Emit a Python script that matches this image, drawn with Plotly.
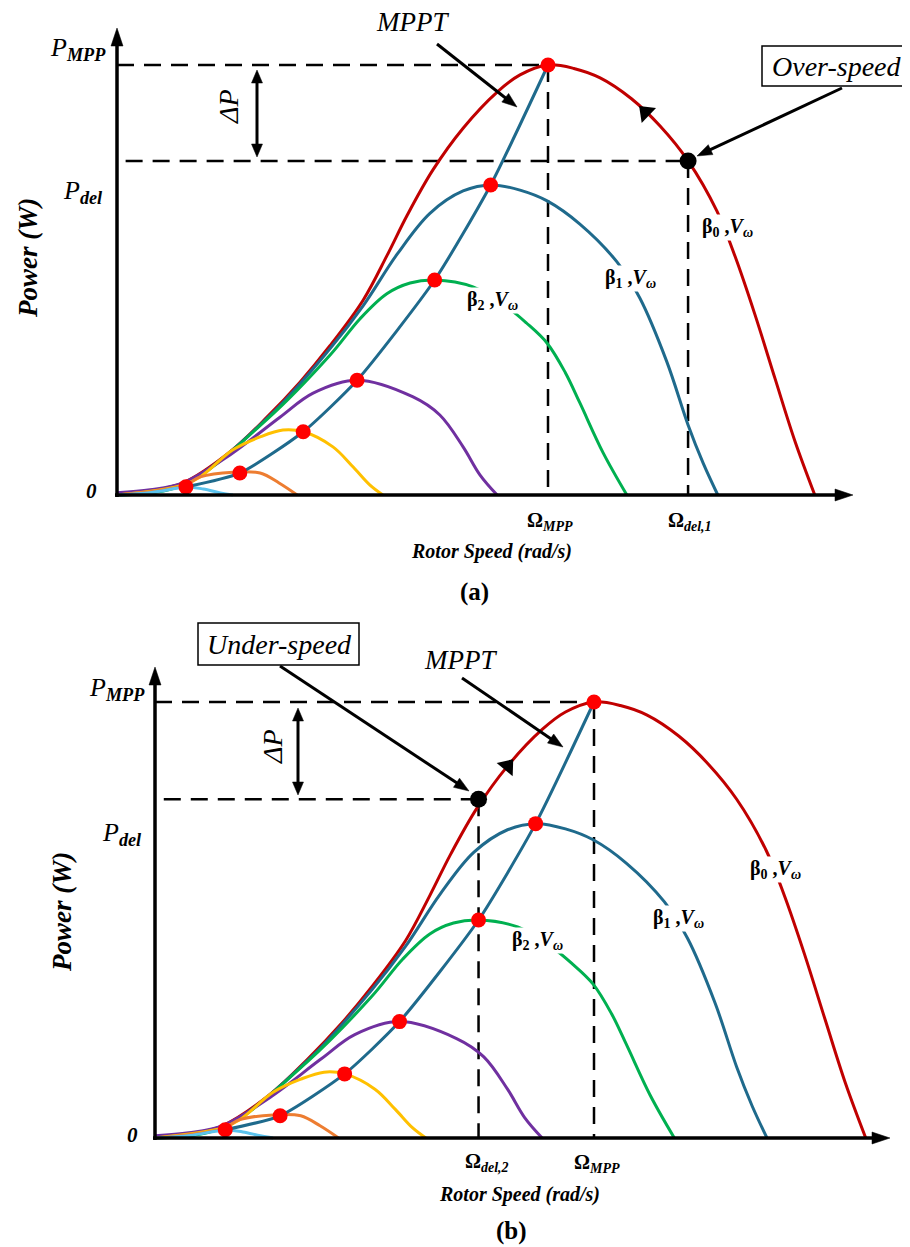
import math
import plotly.graph_objects as go

# ---------------- data (per-unit: rotor speed / Omega_MPP, power / P_MPP) ----------------
# beta0 curve (red)
omega_b0 = [0, 0.077, 0.153, 0.262, 0.348, 0.425, 0.494, 0.571, 0.626, 0.673, 0.733, 0.803,
            0.882, 0.935, 1.0, 1.06, 1.121, 1.193, 1.260, 1.325, 1.392, 1.434, 1.480, 1.527,
            1.573, 1.619]
power_b0 = [0, 0.009, 0.028, 0.100, 0.181, 0.263, 0.347, 0.453, 0.556, 0.650, 0.756, 0.853,
            0.937, 0.977, 1.0, 0.992, 0.970, 0.922, 0.858, 0.777, 0.660, 0.555, 0.420, 0.270,
            0.125, 0]
# beta1 curve (teal)
omega_b1 = [0, 0.153, 0.348, 0.494, 0.571, 0.650, 0.726, 0.803, 0.870, 0.935, 0.998, 1.074,
            1.160, 1.213, 1.276, 1.325, 1.360, 1.394]
power_b1 = [0, 0.025, 0.178, 0.340, 0.440, 0.560, 0.655, 0.707, 0.721, 0.709, 0.684, 0.630,
            0.542, 0.458, 0.309, 0.163, 0.074, 0]
# beta2 curve (green)
omega_b2 = [0, 0.153, 0.348, 0.494, 0.564, 0.626, 0.680, 0.737, 0.826, 0.905, 0.950, 0.998,
            1.040, 1.074, 1.128, 1.183]
power_b2 = [0, 0.023, 0.176, 0.325, 0.410, 0.468, 0.493, 0.500, 0.484, 0.437, 0.400, 0.353,
            0.285, 0.214, 0.098, 0]
# purple curve
omega_b3 = [0, 0.077, 0.153, 0.262, 0.378, 0.455, 0.557, 0.687, 0.749, 0.803, 0.842, 0.882]
power_b3 = [0.005, 0.012, 0.028, 0.093, 0.181, 0.237, 0.267, 0.228, 0.186, 0.112, 0.047, 0]
# yellow curve
omega_b4 = [0, 0.153, 0.193, 0.269, 0.332, 0.385, 0.432, 0.501, 0.548, 0.587, 0.617]
power_b4 = [0, 0.023, 0.042, 0.105, 0.135, 0.151, 0.147, 0.112, 0.065, 0.023, 0]
# orange curve
omega_b5 = [0, 0.153, 0.193, 0.269, 0.332, 0.376, 0.418]
power_b5 = [0, 0.021, 0.042, 0.053, 0.051, 0.028, 0]
# light-blue curve
omega_b6 = [0, 0.08, 0.16, 0.20, 0.24, 0.269]
power_b6 = [0, 0.006, 0.018, 0.014, 0.005, 0]
# MPPT operating points
omega_mppt = [0.160, 0.285, 0.432, 0.557, 0.737, 0.867, 1.0]
power_mppt = [0.019, 0.051, 0.147, 0.267, 0.500, 0.721, 1.0]

P_MPP = 1.0
P_DEL = 0.777
OMEGA_MPP = 1.0
OMEGA_DEL_1 = 1.325
OMEGA_DEL_2 = 0.737

curve_list = [
    (omega_b0, power_b0, "#C00000"),
    (omega_b1, power_b1, "#1F6A8C"),
    (omega_b2, power_b2, "#00B050"),
    (omega_b3, power_b3, "#7030A0"),
    (omega_b4, power_b4, "#FFC000"),
    (omega_b5, power_b5, "#ED7D31"),
    (omega_b6, power_b6, "#5BC3EE"),
]
TEAL = "#1F6A8C"

# ---------------- geometry ----------------
OFF = 8
FIG_W = 910 - OFF
FIG_H = 1247 - OFF


def X(px):
    return (px - OFF) / FIG_W


def Y(py):
    return 1 - (py - OFF) / FIG_H


PANELS = {
    "a": dict(ox=117, oy=495, sx=431, sy=430, xend=853, ytop=28, xa="x", ya="y"),
    "b": dict(ox=155, oy=1138, sx=439, sy=436, xend=890, ytop=667, xa="x2", ya="y2"),
}
PAD = 14

SERIF = "Liberation Serif, Times New Roman, serif"

fig = go.Figure()
shapes = []
annotations = []


def arrow(x0, y0, x1, y1, hl=15, hw=11, lw=3, both=False):
    dx, dy = x1 - x0, y1 - y0
    L = math.hypot(dx, dy)
    ux, uy = dx / L, dy / L
    sx0, sy0 = x0, y0
    ex, ey = x1 - ux * (hl - 2), y1 - uy * (hl - 2)
    if both:
        sx0, sy0 = x0 + ux * (hl - 2), y0 + uy * (hl - 2)
    shapes.append(dict(type="line", xref="paper", yref="paper", x0=X(sx0), y0=Y(sy0),
                       x1=X(ex), y1=Y(ey), line=dict(color="black", width=lw)))

    def head(tx, ty, vx, vy):
        bx, by = tx - vx * hl, ty - vy * hl
        pnx, pny = -vy, vx
        p = (f"M {X(tx)},{Y(ty)} L {X(bx + pnx * hw / 2)},{Y(by + pny * hw / 2)} "
             f"L {X(bx - pnx * hw / 2)},{Y(by - pny * hw / 2)} Z")
        shapes.append(dict(type="path", xref="paper", yref="paper", path=p,
                           fillcolor="black", line=dict(color="black", width=0.5)))

    head(x1, y1, ux, uy)
    if both:
        head(x0, y0, -ux, -uy)


def text(px, py, s, size, angle=0, bg=None):
    d = dict(x=X(px), y=Y(py), xref="paper", yref="paper", text=s, showarrow=False,
             font=dict(family=SERIF, size=size, color="black"), textangle=angle,
             xanchor="center", yanchor="middle")
    if bg:
        d["bgcolor"] = bg
        d["borderpad"] = 0
    annotations.append(d)


for key, p in PANELS.items():
    xa, ya = p["xa"], p["ya"]
    axname = "xaxis" if xa == "x" else "xaxis2"
    ayname = "yaxis" if ya == "y" else "yaxis2"
    fig.update_layout(**{
        axname: dict(domain=[X(p["ox"] - PAD), X(p["xend"])],
                     range=[-PAD / p["sx"], (p["xend"] - p["ox"]) / p["sx"]],
                     visible=False, anchor=ya, fixedrange=True),
        ayname: dict(domain=[Y(p["oy"] + PAD), Y(p["ytop"])],
                     range=[-PAD / p["sy"], (p["oy"] - p["ytop"]) / p["sy"]],
                     visible=False, anchor=xa, fixedrange=True),
    })
    # curves
    for xs, ys, col in curve_list:
        fig.add_trace(go.Scatter(x=xs, y=ys, mode="lines", xaxis=xa, yaxis=ya,
                                 line=dict(color=col, width=3, shape="spline", smoothing=1.0),
                                 hoverinfo="skip", showlegend=False))
    # MPPT trajectory
    fig.add_trace(go.Scatter(x=omega_mppt, y=power_mppt, mode="lines", xaxis=xa, yaxis=ya,
                             line=dict(color=TEAL, width=3, shape="spline", smoothing=0.6),
                             hoverinfo="skip", showlegend=False))
    fig.add_trace(go.Scatter(x=omega_mppt, y=power_mppt, mode="markers", xaxis=xa, yaxis=ya,
                             marker=dict(color="#FF0000", size=15), cliponaxis=False,
                             hoverinfo="skip", showlegend=False))
    # deloaded point and direction arrow on beta0 curve
    od = OMEGA_DEL_1 if key == "a" else OMEGA_DEL_2
    fig.add_trace(go.Scatter(x=[od], y=[P_DEL], mode="markers", xaxis=xa, yaxis=ya,
                             marker=dict(color="black", size=17), cliponaxis=False,
                             hoverinfo="skip", showlegend=False))
    if key == "a":
        i0, i1 = 18, 17
        mx = (omega_b0[i0] + omega_b0[i1]) / 2
        my = (power_b0[i0] + power_b0[i1]) / 2
    else:
        i0, i1 = 10, 12
        mx, my = omega_b0[11], power_b0[11]
    ang = math.degrees(math.atan2((omega_b0[i1] - omega_b0[i0]) * p["sx"],
                                  (power_b0[i1] - power_b0[i0]) * p["sy"]))
    fig.add_trace(go.Scatter(x=[mx], y=[my], mode="markers", xaxis=xa, yaxis=ya,
                             marker=dict(symbol="triangle-up", color="black", size=18, angle=ang,
                                         line=dict(width=0)),
                             hoverinfo="skip", showlegend=False))
    # dashed guide lines
    dash = dict(color="black", width=2.5, dash="17px,10px")
    hx0 = 0.02
    shapes.append(dict(type="line", xref=xa, yref=ya, x0=0.0, x1=OMEGA_MPP, y0=P_MPP, y1=P_MPP,
                       line=dash, layer="below"))
    shapes.append(dict(type="line", xref=xa, yref=ya, x0=hx0, x1=od, y0=P_DEL, y1=P_DEL,
                       line=dash, layer="below"))
    shapes.append(dict(type="line", xref=xa, yref=ya, x0=OMEGA_MPP, x1=OMEGA_MPP, y0=P_MPP, y1=0,
                       line=dash, layer="below"))
    shapes.append(dict(type="line", xref=xa, yref=ya, x0=od, x1=od, y0=P_DEL, y1=0,
                       line=dash, layer="below"))
    # axes with arrowheads
    arrow(p["ox"], p["oy"] + 2, p["ox"], p["ytop"], hl=18, hw=12, lw=3.5)
    arrow(p["ox"] - 2, p["oy"], p["xend"], p["oy"], hl=18, hw=12, lw=3.5)

# ---------------- panel (a) decorations ----------------
arrow(257, 70, 257, 157, hl=13, hw=11, lw=3, both=True)
arrow(437, 44, 517, 107, hl=15, hw=11, lw=3)
arrow(842, 88, 697, 156, hl=15, hw=11, lw=3)
shapes.append(dict(type="rect", xref="paper", yref="paper", x0=X(762), x1=X(908), y0=Y(86), y1=Y(46),
                   line=dict(color="black", width=1.5), fillcolor="white"))

text(78, 49, "<i>P<sub><b>MPP</b></sub></i>", 26)
text(83, 192, "<i>P<sub><b>del</b></sub></i>", 26)
text(91, 491, "<b><i>0</i></b>", 21)
text(229, 107, "<i>ΔP</i>", 28, angle=-90)
text(412, 22, "<i>MPPT</i>", 27)
text(836, 66, "<i>Over-speed</i>", 28)
text(727, 228, "<b>β<sub>0</sub> ,<i>V<sub>ω</sub></i></b>", 20, bg="white")
text(630, 278, "<b>β<sub>1</sub> ,<i>V<sub>ω</sub></i></b>", 20, bg="white")
text(492, 300, "<b>β<sub>2</sub> ,<i>V<sub>ω</sub></i></b>", 20, bg="white")
text(550, 521, "<b>Ω<sub><i>MPP</i></sub></b>", 20)
text(690, 521, "<b>Ω<sub><i>del,1</i></sub></b>", 20)
text(491, 551, "<b><i>Rotor Speed (rad/s)</i></b>", 20)
text(474, 592, "<b>(a)</b>", 25)
text(28, 258, "<b><i>Power (W)</i></b>", 27, angle=-90)

# ---------------- panel (b) decorations ----------------
arrow(298, 708, 298, 795, hl=13, hw=11, lw=3, both=True)
arrow(462, 678, 563, 747, hl=15, hw=11, lw=3)
arrow(280, 666, 469, 791, hl=15, hw=11, lw=3)
shapes.append(dict(type="rect", xref="paper", yref="paper", x0=X(198), x1=X(359), y0=Y(665), y1=Y(623),
                   line=dict(color="black", width=1.5), fillcolor="white"))

text(117, 689, "<i>P<sub><b>MPP</b></sub></i>", 26)
text(122, 834, "<i>P<sub><b>del</b></sub></i>", 26)
text(132, 1135, "<b><i>0</i></b>", 21)
text(272, 747, "<i>ΔP</i>", 28, angle=-90)
text(460, 660, "<i>MPPT</i>", 27)
text(279, 644, "<i>Under-speed</i>", 28)
text(775, 869, "<b>β<sub>0</sub> ,<i>V<sub>ω</sub></i></b>", 20, bg="white")
text(678, 918, "<b>β<sub>1</sub> ,<i>V<sub>ω</sub></i></b>", 20, bg="white")
text(537, 940, "<b>β<sub>2</sub> ,<i>V<sub>ω</sub></i></b>", 20, bg="white")
text(487, 1162, "<b>Ω<sub><i>del,2</i></sub></b>", 20)
text(597, 1163, "<b>Ω<sub><i>MPP</i></sub></b>", 20)
text(519, 1194, "<b><i>Rotor Speed (rad/s)</i></b>", 20)
text(511, 1231, "<b>(b)</b>", 25)
text(62, 912, "<b><i>Power (W)</i></b>", 27, angle=-90)

fig.update_layout(
    width=FIG_W, height=FIG_H,
    margin=dict(l=0, r=0, t=0, b=0),
    paper_bgcolor="white", plot_bgcolor="rgba(0,0,0,0)",
    shapes=shapes, annotations=annotations,
    showlegend=False,
)

fig.write_html("out.html")
